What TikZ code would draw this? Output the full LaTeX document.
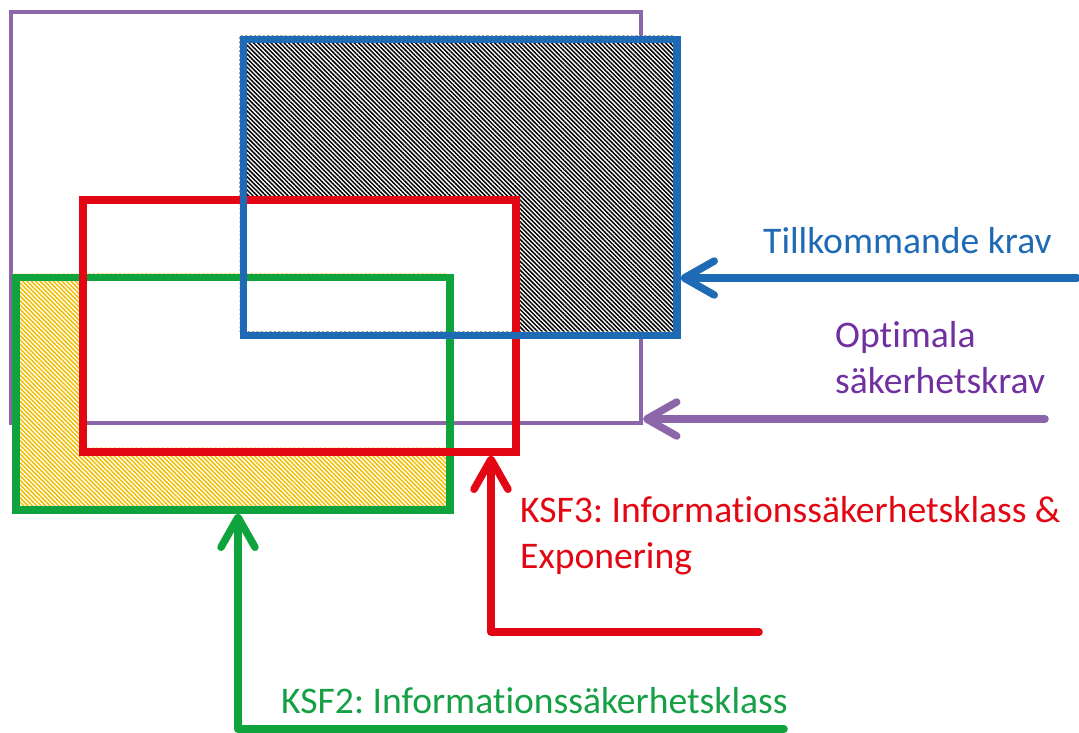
\documentclass[tikz,border=0pt]{standalone}
\usepackage{fontspec}
\setmainfont{Carlito}[Ligatures=NoCommon]
\usetikzlibrary{arrows.meta,patterns.meta}
\definecolor{cpurple}{HTML}{8B66A8}
\definecolor{tpurple}{HTML}{7030A0}
\definecolor{cblue}{HTML}{1E6AB4}
\definecolor{cred}{HTML}{E30613}
\definecolor{cgreen}{HTML}{0EA33C}
\definecolor{tgreen}{HTML}{16A045}
\definecolor{cyellow}{HTML}{F0BE00}
\tikzset{
  frame/.style={draw, inner sep=0pt, anchor=north west, line join=miter},
  arr/.style={line width=7.5pt, line cap=round, line join=round,
    -{Straight Barb[length=30pt,width=34pt,line cap=round,line join=round]}},
  lbl/.style={anchor=base west, inner sep=0pt, font=\fontsize{37.6}{46}\selectfont},
  hatch/.style={pattern={Lines[angle=-45,distance=3.1pt,line width=1.5pt]},pattern color=#1,even odd rule}
}
\frenchspacing
\begin{document}
\begin{tikzpicture}[x=1pt,y=-1pt]
\useasboundingbox (0,0) rectangle (1079,732);
% purple frame
\node[frame, draw=cpurple, line width=4pt, minimum width=630pt, minimum height=411pt] (purple) at (9,10) {};
% hatched regions
\begin{scope}
  \clip (239.5,35.5) rectangle (673,331.5);
  \fill[white,even odd rule] (239.5,35.5) rectangle (673,331.5) (79,196) rectangle (512,447.5);
  \fill[hatch=black] (239.5,35.5) rectangle (673,331.5) (79,196) rectangle (512,447.5);
\end{scope}
\begin{scope}
  \clip (12,273.5) rectangle (446,506);
  \fill[white,even odd rule] (12,273.5) rectangle (446,506) (79,196) rectangle (512,447.5);
  \fill[hatch=cyellow] (12,273.5) rectangle (446,506) (79,196) rectangle (512,447.5);
\end{scope}
% frames
\node[frame, draw=cgreen, line width=7.5pt, minimum width=434pt, minimum height=232.5pt] (green) at (12,273.5) {};
\node[frame, draw=cred, line width=8pt, minimum width=433pt, minimum height=251.5pt] (red) at (79,196) {};
\node[frame, draw=cblue, line width=7.5pt, minimum width=433.5pt, minimum height=296pt] (blue) at (239.5,35.5) {};
% arrows
\coordinate (bs) at (1077,278);
\coordinate (ps) at (1045,419);
\coordinate (rs) at (759,632);
\coordinate (rc) at (491,632);
\coordinate (gs) at (784,729);
\coordinate (gc) at (238,729);
\draw[arr, draw=cblue] (bs) -- (bs -| blue.east);
\draw[arr, draw=cpurple] (ps) -- (ps -| purple.east);
\draw[arr, draw=cred] (rs) -- (rc) -- (rc |- red.south);
\draw[arr, draw=cgreen] (gs) -- (gc) -- (gc |- green.south);
% labels
\node[lbl, text=cblue] (tk) at (763,253) {Tillkommande krav};
\node[lbl, text=tpurple] (op1) at (835,347) {Optimala};
\node[lbl, text=tpurple] (op2) at (835,393) {säkerhetskrav};
\node[lbl, text=cred] (k3a) at (520,522) {KSF3: Informationssäkerhetsklass \&};
\node[lbl, text=cred] (k3b) at (520,568) {Exponering};
\node[lbl, text=tgreen] (k2) at (281,713) {KSF2: Informationssäkerhetsklass};
\end{tikzpicture}
\end{document}
